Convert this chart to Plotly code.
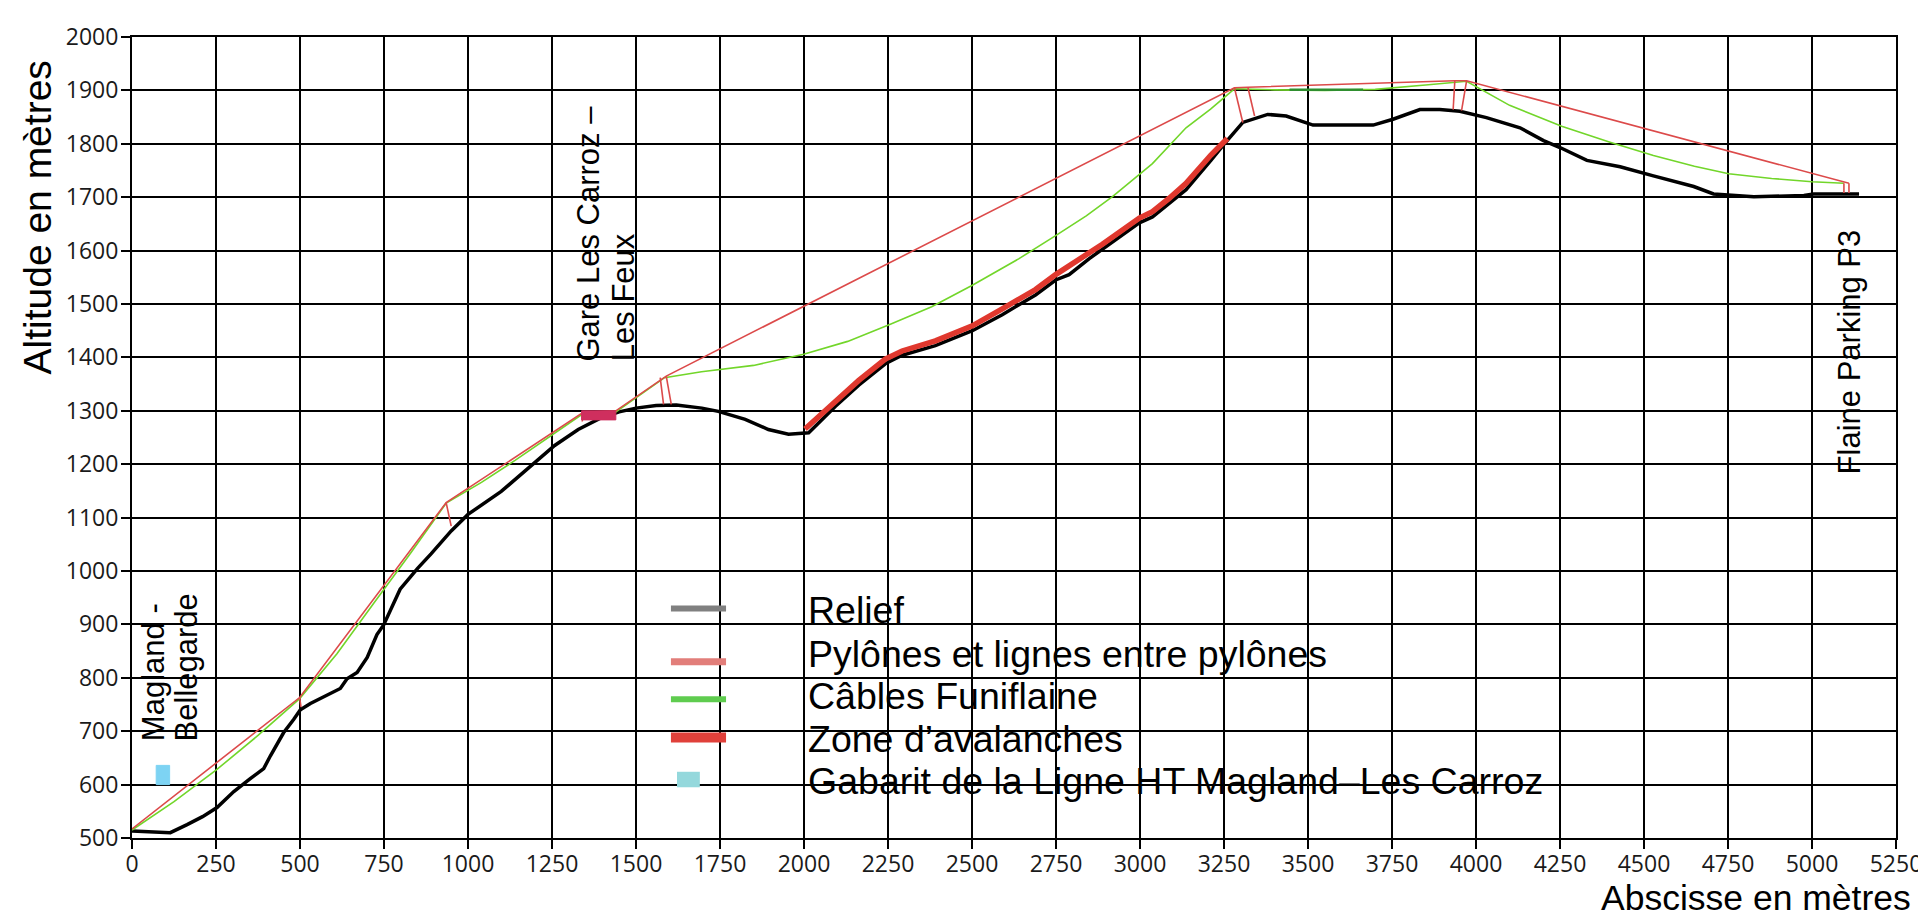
import plotly.graph_objects as go

# ---------------- data ----------------
relief_x = [0, 60, 114, 164, 210, 253, 303, 352, 392, 412, 451, 481, 501, 531, 580, 620, 640, 670,
            700, 729, 749, 798, 850, 890, 950, 1000, 1099, 1189, 1258, 1328, 1397, 1450, 1500, 1560,
            1620, 1696, 1745, 1825, 1894, 1954, 2014, 2093, 2163, 2242, 2292, 2391, 2501, 2590, 2689,
            2749, 2789, 2849, 2888, 2998, 3037, 3087, 3137, 3211, 3251, 3306, 3380, 3435, 3495, 3515,
            3600, 3694, 3753, 3833, 3892, 3952, 4031, 4131, 4201, 4250, 4330, 4429, 4528, 4648, 4707,
            4827, 4976, 5005, 5140]
relief_y = [513, 511, 510, 525, 540, 557, 587, 611, 630, 654, 697, 722, 740, 752, 767, 780, 798, 810,
            838, 881, 899, 966, 1005, 1032, 1075, 1106, 1149, 1198, 1235, 1265, 1287, 1298, 1305, 1310,
            1311, 1305, 1299, 1284, 1265, 1256, 1259, 1308, 1348, 1388, 1404, 1422, 1450, 1480, 1517,
            1545, 1555, 1585, 1603, 1652, 1663, 1689, 1714, 1769, 1800, 1840, 1855, 1852, 1840, 1835,
            1835, 1835, 1846, 1864, 1864, 1861, 1849, 1830, 1806, 1793, 1769, 1757, 1740, 1720, 1706,
            1701, 1703, 1706, 1706]

line_x = [0, 499, 935, 1343, 1440, 1580, 1590, 3281, 3321, 3937, 3972, 5110]
line_y = [517, 763, 1128, 1297, 1300, 1362, 1365, 1905, 1906, 1918, 1918, 1726]

leg_top_x = [499, 935, 1343, 1572, 1590, 3281, 3321, 3937, 3972, 5095, 5110]
leg_top_y = [763, 1128, 1297, 1362, 1365, 1905, 1906, 1918, 1918, 1726, 1726]
leg_bot_x = [503, 950, 1340, 1582, 1605, 3306, 3341, 3932, 3957, 5095, 5110]
leg_bot_y = [745, 1084, 1280, 1312, 1312, 1840, 1852, 1864, 1862, 1708, 1708]

cable_x = [0, 125, 250, 375, 499, 610, 720, 830, 935, 1040, 1140, 1240, 1343, 1440, 1585, 1695, 1850,
           1999, 2130, 2257, 2380, 2501, 2640, 2749, 2840, 2918, 3037, 3137, 3210, 3281, 3400, 3550,
           3700, 3850, 3972, 4100, 4255, 4399, 4528, 4650, 4752, 4880, 5000, 5095]
cable_y = [515, 568, 627, 692, 761, 845, 940, 1034, 1127, 1166, 1207, 1250, 1295, 1298, 1362, 1373,
           1385, 1406, 1430, 1462, 1495, 1535, 1585, 1628, 1665, 1701, 1763, 1830, 1865, 1903, 1901,
           1900, 1902, 1910, 1917, 1872, 1833, 1803, 1778, 1758, 1744, 1735, 1729, 1726]

cable_dark_x = [3445, 3664]
cable_dark_y = [1901, 1901]

aval_x = [2003, 2093, 2163, 2242, 2292, 2391, 2501, 2590, 2689, 2749, 2849, 2888, 2998, 3037, 3087,
          3137, 3211, 3260]
aval_y = [1266, 1316, 1357, 1397, 1412, 1431, 1459, 1491, 1527, 1555, 1594, 1612, 1661, 1673, 1698,
          1726, 1779, 1810]

gare_x = [1338, 1440]
gare_y = [1283, 1300]

gabarit_x = [72, 112]
gabarit_y = [600, 636]

# station label lines (each line is drawn separately, rotated)
station_lines = ["Magland -", "Bellegarde", "Gare Les Carroz –", "Les Feux", "Flaine Parking P3"]
station_line_x = [66, 165, 1358, 1461, 5110]
station_line_y = [678, 678, 1389, 1389, 1178]

legend_labels = ["Relief", "Pylônes et lignes entre pylônes", "Câbles Funiflaine",
                 "Zone d’avalanches", "Gabarit de la Ligne HT Magland–Les Carroz"]

x_ticks = list(range(0, 5251, 250))
y_ticks = list(range(500, 2001, 100))

# ---------------- figure ----------------
fig = go.Figure()

def rect(xs, ys):
    return [xs[0], xs[1], xs[1], xs[0], xs[0]], [ys[0], ys[0], ys[1], ys[1], ys[0]]

gx, gy = rect(gabarit_x, gabarit_y)
fig.add_trace(go.Scatter(x=gx, y=gy, fill="toself", fillcolor="#7dd3f3",
                         line=dict(color="#7dd3f3", width=1), mode="lines", hoverinfo="skip"))

fig.add_trace(go.Scatter(x=relief_x, y=relief_y, mode="lines",
                         line=dict(color="#000000", width=3.5)))

fig.add_trace(go.Scatter(x=aval_x, y=aval_y, mode="lines",
                         line=dict(color="#e0382e", width=5.5)))

fig.add_trace(go.Scatter(x=cable_x, y=cable_y, mode="lines", line=dict(color="#72d62a", width=1.6)))
fig.add_trace(go.Scatter(x=cable_dark_x, y=cable_dark_y, mode="lines",
                         line=dict(color="#2f8f2f", width=2.5)))

fig.add_trace(go.Scatter(x=line_x, y=line_y, mode="lines", line=dict(color="#dc4a4a", width=1.6)))

lx, ly = [], []
for a, b, c, d in zip(leg_top_x, leg_top_y, leg_bot_x, leg_bot_y):
    lx += [a, c, None]
    ly += [b, d, None]
fig.add_trace(go.Scatter(x=lx, y=ly, mode="lines", line=dict(color="#dc4a4a", width=1.6)))

rx, ry = rect(gare_x, gare_y)
fig.add_trace(go.Scatter(x=rx, y=ry, fill="toself", fillcolor="#cf2f5e",
                         line=dict(color="#cf2f5e", width=1), mode="lines"))

label_font = dict(family="Liberation Sans, Arial", size=31, color="#000")
for name, sx, sy in zip(station_lines, station_line_x, station_line_y):
    fig.add_annotation(x=sx, y=sy, xref="x", yref="y", text=name, textangle=-90, showarrow=False,
                       xanchor="center", yanchor="bottom", font=label_font)

# axis titles
fig.add_annotation(xref="paper", yref="paper", x=-0.0537, y=0.775, text="Altitude en mètres",
                   textangle=-90, showarrow=False, xanchor="center", yanchor="middle",
                   font=dict(family="Liberation Sans, Arial", size=39, color="#000"))
fig.add_annotation(xref="paper", yref="paper", x=1.0097, y=-0.0745, text="Abscisse en mètres",
                   showarrow=False, xanchor="right", yanchor="middle",
                   font=dict(family="Liberation Sans, Arial", size=35.5, color="#000"))

# manual legend (in axis units)
leg_sym_y = [930, 830, 760, 688, 609]
leg_txt_y = [927, 844, 765, 686, 606]
leg_colors = ["#808080", "#e27e7a", "#5fcc4f", "#e0403a", "#94d8dc"]
leg_widths = [6, 7, 6, 10, 0]
for i, lab in enumerate(legend_labels):
    if i < 4:
        fig.add_shape(type="line", xref="x", yref="y", x0=1604, x1=1768,
                      y0=leg_sym_y[i], y1=leg_sym_y[i],
                      line=dict(color=leg_colors[i], width=leg_widths[i]))
    else:
        fig.add_shape(type="rect", xref="x", yref="y", x0=1622, x1=1690,
                      y0=595, y1=624, line=dict(width=0), fillcolor=leg_colors[i])
    fig.add_annotation(xref="x", yref="y", x=2006, y=leg_txt_y[i], text=lab,
                       showarrow=False, xanchor="left", yanchor="middle",
                       font=dict(family="Liberation Sans, Arial", size=37.5, color="#000"))

axis_font = dict(family="Open Sans, Noto Sans", size=23, color="#1a1a1a")
fig.update_xaxes(range=[0, 5250], tickvals=x_ticks, ticktext=[str(v) for v in x_ticks],
                 showgrid=True, gridcolor="#000", gridwidth=2, zeroline=False,
                 showline=True, linecolor="#000", linewidth=2, mirror=True,
                 ticks="outside", ticklen=9, tickwidth=2, tickcolor="#000", tickfont=axis_font,
                 ticklabelstandoff=-5)
fig.update_yaxes(range=[500, 2000], tickvals=y_ticks, ticktext=[str(v) for v in y_ticks],
                 showgrid=True, gridcolor="#000", gridwidth=2, zeroline=False,
                 showline=True, linecolor="#000", linewidth=2, mirror=True,
                 ticks="outside", ticklen=9, tickwidth=2, tickcolor="#000", tickfont=axis_font,
                 ticklabelstandoff=-2)

fig.update_layout(width=1926, height=917, showlegend=False,
                  margin=dict(l=124, r=33, t=17, b=87),
                  paper_bgcolor="#ffffff", plot_bgcolor="#ffffff")

fig.write_html("out.html")
